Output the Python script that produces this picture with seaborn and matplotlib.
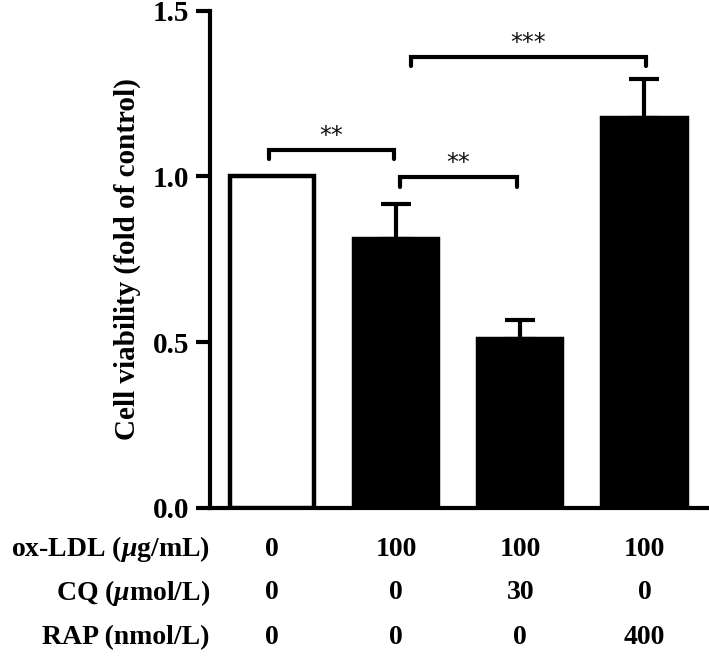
import numpy as np
import pandas as pd
import matplotlib
matplotlib.use("Agg")
import matplotlib.pyplot as plt
import seaborn as sns

# values
groups = ["G1", "G2", "G3", "G4"]
viability = [1.0, 0.81, 0.51, 1.175]
sd = [0.0, 0.107, 0.056, 0.118]
bar_colors = ["white", "black", "black", "black"]

row_labels = ["ox-LDL ($\\mu$g/mL)", "CQ ($\\mu$mol/L)", "RAP (nmol/L)"]
oxldl = ["0", "100", "100", "100"]
cq = ["0", "0", "30", "0"]
rap = ["0", "0", "0", "400"]

# significance brackets: (left group, right group, label)
sig_pairs = [(0, 1, "**"), (1, 2, "**"), (1, 3, "***")]

sns.set_style("ticks")
plt.rcParams["font.family"] = ["Liberation Serif", "DejaVu Serif"]
plt.rcParams["font.weight"] = "bold"
plt.rcParams["text.color"] = "black"
plt.rcParams["axes.edgecolor"] = "black"
plt.rcParams["axes.labelcolor"] = "black"
plt.rcParams["ytick.color"] = "black"
plt.rcParams["mathtext.fontset"] = "custom"
plt.rcParams["mathtext.it"] = "Liberation Serif:italic:bold"
plt.rcParams["mathtext.rm"] = "Liberation Serif:bold"

df = pd.DataFrame({"group": groups, "viability": viability})

fig = plt.figure(figsize=(7.09, 6.61), dpi=100)
ax = fig.add_axes([0.296, 0.2315, 0.704, 0.7525])

sns.barplot(data=df, x="group", y="viability", hue="group", palette=bar_colors,
            legend=False, width=0.68, edgecolor="black", linewidth=3.2,
            errorbar=None, ax=ax, zorder=3)

# upper-only error bars
for i, (v, e) in enumerate(zip(viability, sd)):
    if e > 0:
        ax.errorbar(i, v, yerr=[[0], [e]], fmt="none", ecolor="black",
                    elinewidth=3, capsize=11, capthick=3, zorder=2)

# brackets
bracket_geom = {(0, 1): (-0.02, 0.98, 1.081), (1, 2): (1.03, 1.97, 0.997),
                (1, 3): (1.12, 3.01, 1.360)}
for a, b, lab in sig_pairs:
    x0, x1, y = bracket_geom[(a, b)]
    ax.plot([x0, x0, x1, x1], [y - 0.028, y, y, y - 0.028], color="black",
            lw=3, solid_capstyle="round", solid_joinstyle="miter", zorder=4)
    ax.text((x0 + x1) / 2, y + 0.006, lab, ha="center", va="bottom",
            fontsize=17, fontweight="normal", family="DejaVu Sans", color="#111111")

ax.set_ylim(0, 1.5)
ax.set_xlim(-0.5, 3.52)
ax.set_yticks([0.0, 0.5, 1.0, 1.5])
ax.set_yticklabels(["0.0", "0.5", "1.0", "1.5"])
ax.set_xticks([])
ax.set_xlabel("")
ax.set_ylabel("Cell viability (fold of control)", fontsize=21, fontweight="bold",
              labelpad=8)
ax.tick_params(axis="y", labelsize=21, width=3, length=10, pad=5)
for lab in ax.get_yticklabels():
    lab.set_fontweight("bold")
for s in ["top", "right"]:
    ax.spines[s].set_visible(False)
ax.spines["left"].set_linewidth(3)
ax.spines["bottom"].set_linewidth(3)

# treatment table under the axis
rows = [oxldl, cq, rap]
row_y = [-0.125, -0.255, -0.39]
for label, vals, yy in zip(row_labels, rows, row_y):
    ax.text(-0.5, yy, label, ha="right", va="center", fontsize=20,
            fontweight="bold", clip_on=False)
    for i, v in enumerate(vals):
        ax.text(i, yy, v, ha="center", va="center", fontsize=20,
                fontweight="bold", clip_on=False)

fig.savefig("out.png", dpi=100)
